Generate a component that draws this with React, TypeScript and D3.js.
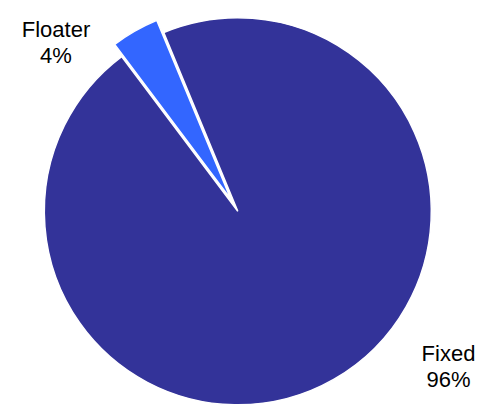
import React from "react";
import * as d3 from "d3";

const categories = ["Fixed", "Floater"];
const values = [96, 4];
const colors = ["#333399", "#3366FF"];
const labelLines = ["Fixed\n96%", "Floater\n4%"];

const W = 479;
const H = 410;
const cx = 237.8;
const cy = 211.3;
const radius = 193.5;
const startDeg = -22.5;
const explode = [0, 14];
const labelPos = [
  { x: 448.5, y: 361 },
  { x: 56, y: 36.5 },
];

export default function App() {
  const data = categories.map((c, i) => ({ name: c, value: values[i] }));
  const start = (startDeg * Math.PI) / 180;
  const pie = d3
    .pie<{ name: string; value: number }>()
    .sort(null)
    .value((d) => d.value)
    .startAngle(start)
    .endAngle(start + 2 * Math.PI);
  const arcs = pie(data);
  const arcGen = d3
    .arc<d3.PieArcDatum<{ name: string; value: number }>>()
    .innerRadius(0)
    .outerRadius(radius);

  return (
    <svg
      width={W}
      height={H}
      style={{ position: "absolute", left: 0, top: 0, background: "#fff" }}
    >
      <g transform={`translate(${cx},${cy})`}>
        {arcs.map((a, i) => {
          const mid = (a.startAngle + a.endAngle) / 2;
          const dx = Math.sin(mid) * explode[i];
          const dy = -Math.cos(mid) * explode[i];
          return (
            <path
              key={a.data.name}
              d={arcGen(a) || ""}
              transform={`translate(${dx},${dy})`}
              fill={colors[i]}
              stroke="#ffffff"
              strokeWidth={1.5}
              strokeLinejoin="miter"
            />
          );
        })}
      </g>
      {labelLines.map((t, i) => (
        <text
          key={i}
          x={labelPos[i].x}
          y={labelPos[i].y}
          textAnchor="middle"
          fontFamily="'Liberation Sans', Arial, sans-serif"
          fontSize={22}
          fill="#000"
        >
          {t.split("\n").map((line, j) => (
            <tspan key={j} x={labelPos[i].x} dy={j === 0 ? 0 : 26}>
              {line}
            </tspan>
          ))}
        </text>
      ))}
    </svg>
  );
}
